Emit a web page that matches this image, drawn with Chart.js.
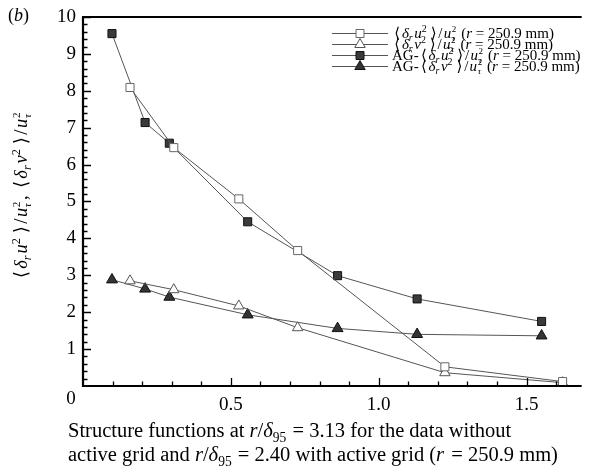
<!DOCTYPE html>
<html>
<head>
<meta charset="utf-8">
<script src="https://cdn.jsdelivr.net/npm/chart.js@4.4.0/dist/chart.umd.min.js"></script>
<style>
  html, body { margin: 0; padding: 0; background: #fff; }
  #wrap { width: 589px; height: 472px; }
</style>
</head>
<body>
<div id="wrap"><canvas id="chart" width="589" height="472"></canvas></div>
<script>
// separation r / delta_95 for each structure-function sample
const rNoGrid = [0.159, 0.307, 0.527, 0.726, 1.224, 1.622];
const rGrid = [0.098, 0.210, 0.292, 0.557, 0.861, 1.130, 1.551];
// <dr u^2>/u_tau^2 and <dr v^2>/u_tau^2, without and with active grid
const du2 = [8.09, 6.46, 5.07, 3.67, 0.52, 0.12];
const dv2 = [2.85, 2.61, 2.17, 1.58, 0.36, 0.09];
const du2AG = [9.55, 7.14, 6.58, 4.45, 2.99, 2.36, 1.75];
const dv2AG = [2.88, 2.63, 2.41, 1.93, 1.56, 1.40, 1.36];
const xTicks = [0.5, 1.0, 1.5];
const yTicks = [1, 2, 3, 4, 5, 6, 7, 8, 9, 10];

const SERIF = "'Liberation Serif', 'Times New Roman', 'DejaVu Serif', serif";
const font = (size, italic) => (italic ? 'italic ' : '') + size + 'px ' + SERIF;

const pts = (xs, ys) => xs.map((x, i) => ({ x: x, y: ys[i] }));

// rich text pieces: {t, i: italic, sub, sup, pre/sp: extra em before/after} or {stack: [sup, sub]}
function bracket(comp) {
  return [
    { t: '\u27E8', pre: 0.15, sp: 0.12 }, { t: '\u03B4', i: 1 }, { t: 'r', i: 1, sub: 1, sp: 0.1 },
    { t: comp, i: 1 }, { t: '2', sup: 1, sp: 0.12 }, { t: '\u27E9', pre: 0.15, sp: 0.12 }, { t: '/', sp: 0.08 },
    { t: 'u', i: 1, sp: 0.04 }, { stack: ['2', '\u03C4'], sp: 0.08 }
  ];
}
const rEq = [{ t: ' (' }, { t: 'r', i: 1 }, { t: ' = 250.9 mm)' }];
const legendRows = [
  { segs: bracket('u').concat(rEq), style: 'rect', fill: '#fff', stroke: '#666' },
  { segs: bracket('v').concat(rEq), style: 'triangle', fill: '#fff', stroke: '#555' },
  { segs: [{ t: 'AG-' }].concat(bracket('u'), rEq), style: 'rect', fill: '#3a3a3a', stroke: '#111' },
  { segs: [{ t: 'AG-' }].concat(bracket('v'), rEq), style: 'triangle', fill: '#333', stroke: '#111' }
];
const yTitle = bracket('u').concat([{ t: ', ' }], bracket('v'));
const xTitle1 = [{ t: 'Structure functions at ' }, { t: 'r', i: 1 }, { t: '/' }, { t: '\u03B4', i: 1 },
  { t: '95', sub: 1, sp: 0.05 }, { t: ' = 3.13 for the data without' }];
const xTitle2 = [{ t: 'active grid and ' }, { t: 'r', i: 1 }, { t: '/' }, { t: '\u03B4', i: 1 },
  { t: '95', sub: 1, sp: 0.05 }, { t: ' = 2.40 with active grid (' }, { t: 'r', i: 1, sp: 0.1 },
  { t: ' = 250.9 mm)' }];

function glyphWidth(ctx, s, size) {
  if (s.stack) {
    ctx.font = font(size * 0.6, false);
    const a = ctx.measureText(s.stack[0]).width;
    ctx.font = font(size * 0.6, true);
    return Math.max(a, ctx.measureText(s.stack[1]).width);
  }
  ctx.font = font(s.sub || s.sup ? size * 0.66 : size, !!s.i);
  return ctx.measureText(s.t).width;
}
function segWidth(ctx, s, size) {
  return glyphWidth(ctx, s, size) + ((s.pre || 0) + (s.sp || 0)) * size;
}
function richWidth(ctx, segs, size) {
  return segs.reduce((w, s) => w + segWidth(ctx, s, size), 0);
}
function drawRich(ctx, segs, x, y, size) {
  let cx = x;
  ctx.textBaseline = 'alphabetic';
  ctx.textAlign = 'left';
  for (const s of segs) {
    const w = segWidth(ctx, s, size);
    const gx = cx + (s.pre || 0) * size;
    if (s.stack) {
      ctx.font = font(size * 0.6, false);
      ctx.fillText(s.stack[0], gx, y - size * 0.36);
      ctx.font = font(size * 0.6, true);
      ctx.fillText(s.stack[1], gx, y + size * 0.24);
    } else if (s.sup) {
      ctx.font = font(size * 0.66, !!s.i);
      ctx.fillText(s.t, gx, y - size * 0.38);
    } else if (s.sub) {
      ctx.font = font(size * 0.66, !!s.i);
      ctx.fillText(s.t, gx, y + size * 0.22);
    } else {
      ctx.font = font(size, !!s.i);
      ctx.fillText(s.t, gx, y);
    }
    cx += w;
  }
}

function marker(ctx, style, x, y, fill, stroke) {
  ctx.save();
  ctx.fillStyle = fill;
  ctx.strokeStyle = stroke;
  ctx.lineWidth = 1;
  ctx.beginPath();
  if (style === 'rect') {
    ctx.rect(x - 4, y - 4, 8, 8);
  } else {
    ctx.moveTo(x, y - 6);
    ctx.lineTo(x + 5.2, y + 3);
    ctx.lineTo(x - 5.2, y + 3);
    ctx.closePath();
  }
  ctx.fill();
  ctx.stroke();
  ctx.restore();
}

const framePlugin = {
  id: 'frame',
  afterDraw(chart) {
    const ctx = chart.ctx;
    const xs = chart.scales.x, ys = chart.scales.y;
    const a = chart.chartArea;
    ctx.save();
    ctx.strokeStyle = '#000';
    ctx.fillStyle = '#000';

    // minor and major ticks, pointing into the plot
    ctx.lineWidth = 1.3;
    ctx.beginPath();
    for (let v = 0.1; v < xs.max; v += 0.1) {
      const px = Math.round(xs.getPixelForValue(v)) + 0.5;
      const major = Math.abs(v * 2 - Math.round(v * 2)) < 1e-6;
      ctx.moveTo(px, a.bottom);
      ctx.lineTo(px, a.bottom - (major ? 8 : 4.5));
    }
    for (let v = 0.2; v < 10; v += 0.2) {
      const py = Math.round(ys.getPixelForValue(v)) + 0.5;
      const major = Math.abs(v - Math.round(v)) < 1e-6;
      ctx.moveTo(a.left, py);
      ctx.lineTo(a.left + (major ? 8 : 4.5), py);
    }
    ctx.stroke();

    // axis lines
    ctx.lineWidth = 2.2;
    ctx.beginPath();
    ctx.moveTo(a.left, a.top);
    ctx.lineTo(a.left, a.bottom);
    ctx.lineTo(a.right, a.bottom);
    ctx.moveTo(a.left - 1, a.top);
    ctx.lineTo(a.right, a.top);
    ctx.stroke();

    // tick labels
    ctx.font = font(19, false);
    ctx.textBaseline = 'middle';
    ctx.textAlign = 'center';
    xTicks.forEach(v => ctx.fillText(v.toFixed(1), xs.getPixelForValue(v), a.bottom + 19));
    ctx.textAlign = 'right';
    yTicks.forEach(v => ctx.fillText(String(v), a.left - 7, ys.getPixelForValue(v)));
    ctx.textAlign = 'center';
    ctx.fillText('0', a.left - 12, a.bottom + 13);

    // panel tag
    ctx.textAlign = 'left';
    ctx.textBaseline = 'alphabetic';
    ctx.font = font(18, false);
    ctx.fillText('(', 8, 21);
    let w = ctx.measureText('(').width;
    ctx.font = font(18, true);
    ctx.fillText('b', 8 + w, 21);
    w += ctx.measureText('b').width;
    ctx.font = font(18, false);
    ctx.fillText(')', 8 + w, 21);

    // axis titles
    drawRich(ctx, xTitle1, 68, 437, 20.5);
    drawRich(ctx, xTitle2, 68, 461, 20.5);
    ctx.save();
    ctx.translate(27, 196);
    ctx.rotate(-Math.PI / 2);
    const tw = richWidth(ctx, yTitle, 18.5);
    drawRich(ctx, yTitle, -tw / 2, 0, 18.5);
    ctx.restore();

    // legend
    legendRows.forEach((row, i) => {
      const y = 33 + i * 11;
      ctx.strokeStyle = '#555';
      ctx.lineWidth = 1;
      ctx.beginPath();
      ctx.moveTo(332, y + 0.5);
      ctx.lineTo(388, y + 0.5);
      ctx.stroke();
      marker(ctx, row.style, 360, y + 0.5, row.fill, row.stroke);
      ctx.fillStyle = '#000';
      drawRich(ctx, row.segs, 392, y + 4.5, 15);
    });
    ctx.restore();
  }
};

const lineStyle = { showLine: true, borderColor: '#555', borderWidth: 1, tension: 0 };

new Chart(document.getElementById('chart'), {
  type: 'scatter',
  data: {
    datasets: [
      Object.assign({ data: pts(rNoGrid, du2), pointStyle: 'rect', pointRadius: 5.7,
        pointBackgroundColor: '#fff', pointBorderColor: '#666', pointBorderWidth: 1 }, lineStyle),
      Object.assign({ data: pts(rNoGrid, dv2), pointStyle: 'triangle', pointRadius: 6,
        pointBackgroundColor: '#fff', pointBorderColor: '#555', pointBorderWidth: 1 }, lineStyle),
      Object.assign({ data: pts(rGrid, du2AG), pointStyle: 'rect', pointRadius: 5.7,
        pointBackgroundColor: '#3a3a3a', pointBorderColor: '#111', pointBorderWidth: 1 }, lineStyle),
      Object.assign({ data: pts(rGrid, dv2AG), pointStyle: 'triangle', pointRadius: 6.3,
        pointBackgroundColor: '#333', pointBorderColor: '#111', pointBorderWidth: 1 }, lineStyle)
    ]
  },
  options: {
    responsive: false,
    animation: false,
    devicePixelRatio: 1,
    layout: { padding: { left: 83, top: 17, right: 0, bottom: 86 } },
    plugins: { legend: { display: false }, tooltip: { enabled: false } },
    scales: {
      x: { type: 'linear', min: 0, max: 506 / 300, display: false },
      y: { type: 'linear', min: 0, max: 10, display: false }
    }
  },
  plugins: [framePlugin]
});
</script>
</body>
</html>
